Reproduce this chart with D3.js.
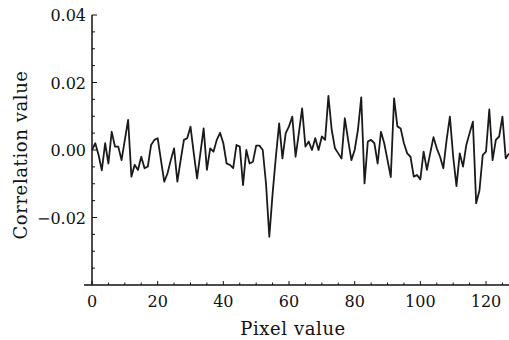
<!DOCTYPE html>
<html>
<head>
<meta charset="utf-8">
<script src="https://cdn.jsdelivr.net/npm/d3@7"></script>
<style>
  html, body { margin: 0; padding: 0; background: #fff; }
  svg { display: block; }
</style>
</head>
<body>
<svg id="chart" width="509" height="340"></svg>
<script>
// ---- data ----
const pixelValues = d3.range(0, 128);
const correlation = [
  0.000, 0.002, -0.0015, -0.006, 0.002, -0.004, 0.0054, 0.001, 0.001, -0.003,
  0.003, 0.0089, -0.0079, -0.0044, -0.0059, -0.002, -0.0054, -0.0049, 0.0015, 0.003,
  0.0035, -0.003, -0.0094, -0.0069, -0.003, 0.0005, -0.0094, -0.003, 0.003, 0.0035,
  0.0069, -0.001, -0.0084, -0.001, 0.0064, -0.0059, 0.0005, -0.0005, 0.003, 0.0051,
  0.002, -0.004, -0.0044, -0.0054, 0.0015, 0.001, -0.0104, 0.000, -0.004, -0.0035,
  0.0013, 0.0013, 0.000, -0.010, -0.0257, -0.013, -0.002, 0.0079, -0.0025, 0.005,
  0.007, 0.0099, -0.002, 0.005, 0.0123, 0.001, 0.0025, 0.000, 0.0035, 0.000,
  0.004, 0.003, 0.016, 0.006, 0.0005, -0.001, -0.0025, 0.0094, 0.003, -0.003,
  0.000, 0.006, 0.0156, -0.0099, 0.0025, 0.003, 0.002, -0.004, 0.0054, 0.002,
  -0.003, -0.008, 0.0153, 0.007, 0.0064, 0.002, -0.001, -0.002, -0.0079, -0.0074,
  -0.0087, -0.0005, -0.0059, -0.001, 0.0038, 0.0005, -0.002, -0.0054, 0.003, 0.0099,
  -0.002, -0.0107, -0.001, -0.0049, 0.0015, 0.005, 0.0084, -0.0158, -0.012, -0.0015,
  -0.0005, 0.012, -0.003, 0.003, 0.004, 0.0099, -0.0025, -0.001
];
const xMajorTicks = [0, 20, 40, 60, 80, 100, 120];
const xMinorTicks = [5, 10, 15, 25, 30, 35, 45, 50, 55, 65, 70, 75, 85, 90, 95, 105, 110, 115, 125];
const yMajorTicks = [-0.02, 0.00, 0.02, 0.04];
const yMinorTicks = [-0.035, -0.03, -0.025, -0.015, -0.01, -0.005, 0.005, 0.01, 0.015, 0.025, 0.03, 0.035];
const xTitle = "Pixel value";
const yTitle = "Correlation value";

// ---- layout ----
const svg = d3.select("#chart");
const x = d3.scaleLinear().domain([0, 127]).range([92, 509]);
const y = d3.scaleLinear().domain([-0.04, 0.04]).range([285, 15]);
const tickFont = "DejaVu Serif, serif";
const titleFont = "DejaVu Serif, serif";
const ink = "#111";

// x axis line
svg.append("line")
  .attr("x1", 84).attr("x2", 509)
  .attr("y1", y(-0.04)).attr("y2", y(-0.04))
  .attr("stroke", ink).attr("stroke-width", 1.5);
// y axis line
svg.append("line")
  .attr("x1", x(0)).attr("x2", x(0))
  .attr("y1", y(-0.04)).attr("y2", y(0.04))
  .attr("stroke", ink).attr("stroke-width", 1.5);

// x ticks (inward)
svg.selectAll(".xmaj").data(xMajorTicks).enter().append("line")
  .attr("x1", d => x(d)).attr("x2", d => x(d))
  .attr("y1", y(-0.04)).attr("y2", y(-0.04) - 4)
  .attr("stroke", ink).attr("stroke-width", 1);
svg.selectAll(".xmin").data(xMinorTicks).enter().append("line")
  .attr("x1", d => x(d)).attr("x2", d => x(d))
  .attr("y1", y(-0.04)).attr("y2", y(-0.04) - 2.5)
  .attr("stroke", ink).attr("stroke-width", 1);
svg.selectAll(".xlab").data(xMajorTicks).enter().append("text")
  .attr("x", d => x(d)).attr("y", 307)
  .attr("text-anchor", "middle")
  .attr("font-family", tickFont).attr("font-size", 16)
  .attr("fill", ink)
  .text(d => d3.format("d")(d));

// y ticks (inward)
svg.selectAll(".ymaj").data(yMajorTicks).enter().append("line")
  .attr("x1", x(0)).attr("x2", x(0) + 5)
  .attr("y1", d => y(d)).attr("y2", d => y(d))
  .attr("stroke", ink).attr("stroke-width", 1);
svg.selectAll(".ymin").data(yMinorTicks).enter().append("line")
  .attr("x1", x(0)).attr("x2", x(0) + 3)
  .attr("y1", d => y(d)).attr("y2", d => y(d))
  .attr("stroke", ink).attr("stroke-width", 1);
svg.selectAll(".ylab").data(yMajorTicks).enter().append("text")
  .attr("x", 86).attr("y", d => y(d) + 6)
  .attr("text-anchor", "end")
  .attr("font-family", tickFont).attr("font-size", 16)
  .attr("fill", ink)
  .text(d => (d < 0 ? "\u2212" : "") + d3.format(".2f")(Math.abs(d)));

// data line
const line = d3.line()
  .x((d, i) => x(pixelValues[i]))
  .y(d => y(d));
svg.append("path")
  .datum(correlation)
  .attr("d", line)
  .attr("fill", "none")
  .attr("stroke", "#1a1a1a")
  .attr("stroke-width", 1.8)
  .attr("stroke-linejoin", "round");

// titles
svg.append("text")
  .attr("x", 293).attr("y", 335)
  .attr("text-anchor", "middle")
  .attr("font-family", titleFont).attr("font-size", 18)
  .attr("letter-spacing", 0.6)
  .attr("fill", ink)
  .text(xTitle);
svg.append("text")
  .attr("transform", "translate(27,155) rotate(-90)")
  .attr("text-anchor", "middle")
  .attr("font-family", titleFont).attr("font-size", 18)
  .attr("letter-spacing", 0.6)
  .attr("fill", ink)
  .text(yTitle);
</script>
</body>
</html>
